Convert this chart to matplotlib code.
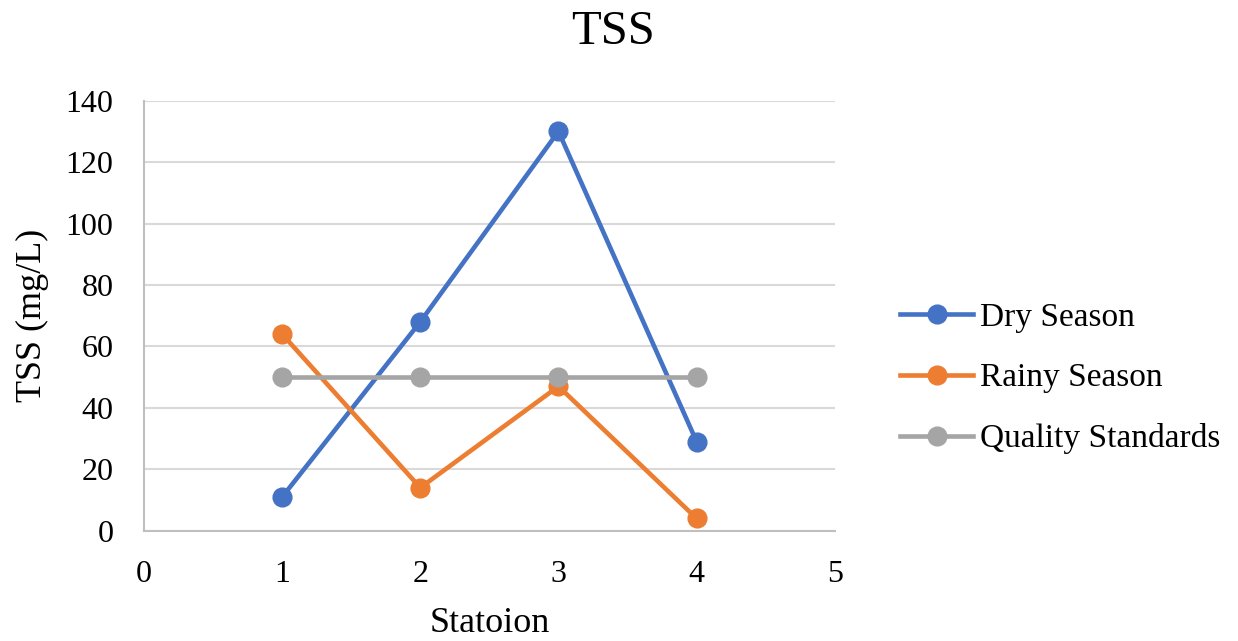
import matplotlib.pyplot as plt

stations = [1, 2, 3, 4]
dry_season = [11, 68, 130, 29]
rainy_season = [64, 14, 47, 4]
quality_standards = [50, 50, 50, 50]

plt.rcParams['font.family'] = ['Liberation Serif', 'DejaVu Serif']

fig = plt.figure(figsize=(12.38, 6.41), dpi=100)
ax = fig.add_axes([0.1163, 0.172, 0.558, 0.671])

ax.plot(stations, dry_season, color='#4472c4', lw=3.3, marker='o', ms=13.5, label='Dry Season')
ax.plot(stations, rainy_season, color='#ed7d31', lw=3.3, marker='o', ms=13.5, label='Rainy Season')
ax.plot(stations, quality_standards, color='#a5a5a5', lw=3.3, marker='o', ms=13.5, label='Quality Standards')

ax.set_xlim(0, 5)
ax.set_ylim(0, 140)
ax.set_xticks(range(0, 6))
ax.set_yticks(range(0, 141, 20))
ax.grid(axis='y', color='#d9d9d9', lw=1.5)
ax.set_axisbelow(True)
for s in ['top', 'right']:
    ax.spines[s].set_visible(False)
for s in ['left', 'bottom']:
    ax.spines[s].set_color('#bfbfbf')
    ax.spines[s].set_linewidth(1.5)
ax.tick_params(length=0, labelsize=23)
ax.tick_params(axis='x', pad=21)
ax.tick_params(axis='y', pad=22)

ax.set_xlabel('Statoion', fontsize=26, labelpad=13)
ax.set_ylabel('TSS (mg/L)', fontsize=26, labelpad=12)
fig.text(0.495, 1 - 44 / 641, 'TSS', fontsize=35, ha='center', va='baseline')

fig.legend(loc='center left', bbox_to_anchor=(0.727, 0.41), frameon=False,
           borderpad=0, borderaxespad=0,
           fontsize=24, handlelength=2.2, labelspacing=0.9, handletextpad=0.2)

fig.savefig('out.png', dpi=100)
